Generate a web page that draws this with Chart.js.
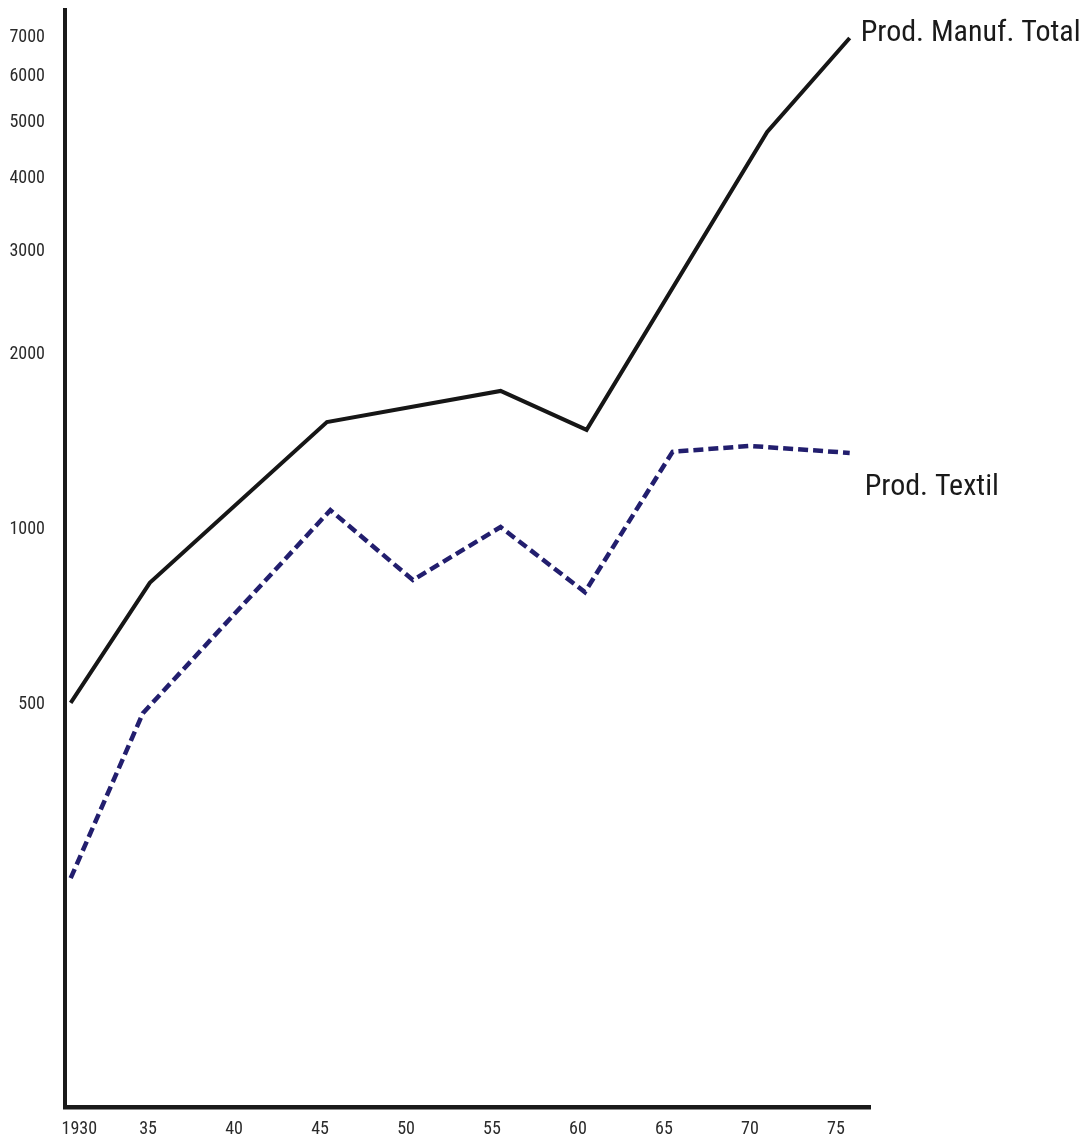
<!DOCTYPE html>
<html>
<head>
<meta charset="utf-8">
<script src="https://cdn.jsdelivr.net/npm/chart.js@4.4.1/dist/chart.umd.min.js"></script>
<style>
  html, body { margin: 0; padding: 0; background: #ffffff; }
  #wrap { width: 1086px; height: 1137px; position: relative; }
</style>
</head>
<body>
<div id="wrap"><canvas id="c" width="1086" height="1137"></canvas></div>
<script>
// ---- data ----
const seriesNames = ['Prod. Manuf. Total', 'Prod. Textil'];

const manufYears  = [1930.5, 1935.1, 1945.4, 1955.5, 1960.5, 1971.0, 1975.8];
const manufValues = [504, 810, 1530, 1730, 1483, 4817, 6984];

const textilYears  = [1930.5, 1934.7, 1945.6, 1950.4, 1955.5, 1960.4, 1965.5, 1970.0, 1975.8];
const textilValues = [252, 484, 1080, 819, 1010, 781, 1360, 1392, 1354];

const yTickValues = [500, 1000, 2000, 3000, 4000, 5000, 6000, 7000];
const xTickValues = [1931, 1935, 1940, 1945, 1950, 1955, 1960, 1965, 1970, 1975];
const xTickLabels = ['1930', '35', '40', '45', '50', '55', '60', '65', '70', '75'];

// ---- chart ----
const FONT = "'Liberation Sans Narrow', 'Arial Narrow', 'Roboto Condensed', 'Liberation Sans', Arial, sans-serif";

const endLabels = {
  id: 'endLabels',
  afterDatasetsDraw(chart, args, opts) {
    const ctx = chart.ctx;
    chart.data.datasets.forEach((ds, i) => {
      const meta = chart.getDatasetMeta(i);
      const last = meta.data[meta.data.length - 1];
      const o = opts.offsets[i];
      ctx.save();
      ctx.font = opts.size + 'px ' + FONT;
      ctx.fillStyle = opts.color;
      ctx.textAlign = 'left';
      ctx.textBaseline = 'middle';
      ctx.fillText(ds.label, last.x + o[0], last.y + o[1]);
      ctx.restore();
    });
  }
};

const toXY = (xs, ys) => xs.map((x, i) => ({ x: x, y: ys[i] }));

new Chart(document.getElementById('c'), {
  type: 'line',
  data: {
    datasets: [
      {
        label: seriesNames[0],
        data: toXY(manufYears, manufValues),
        borderColor: '#161616',
        borderWidth: 4,
        borderJoinStyle: 'miter',
        pointRadius: 0,
        tension: 0,
        fill: false
      },
      {
        label: seriesNames[1],
        data: toXY(textilYears, textilValues),
        borderColor: '#221e6e',
        borderWidth: 4.5,
        borderDash: [10, 5],
        borderJoinStyle: 'miter',
        pointRadius: 0,
        tension: 0,
        fill: false
      }
    ]
  },
  options: {
    responsive: false,
    animation: false,
    devicePixelRatio: 1,
    layout: { padding: { top: 10, right: 216, left: 0, bottom: 0 } },
    plugins: {
      legend: { display: false },
      tooltip: { enabled: false },
      endLabels: { size: 30, color: '#1a1a1a', offsets: [[11, -4], [15, 35]] }
    },
    scales: {
      x: {
        type: 'linear',
        min: 1930.17,
        max: 1976.98,
        afterBuildTicks(scale) { scale.ticks = xTickValues.map(v => ({ value: v })); },
        afterFit(scale) { scale.height = 30; scale.paddingLeft = 0; scale.paddingRight = 0; },
        grid: { display: false, drawTicks: false },
        border: { display: true, width: 4.5, color: '#1a1a1a' },
        ticks: {
          padding: 12,
          maxRotation: 0,
          autoSkip: false,
          color: '#2a2a2a',
          font: { family: FONT, size: 18 },
          callback(value) {
            const idx = xTickValues.indexOf(value);
            return idx >= 0 ? xTickLabels[idx] : '';
          }
        }
      },
      y: {
        type: 'logarithmic',
        min: 102,
        max: 7800,
        afterBuildTicks(scale) { scale.ticks = yTickValues.map(v => ({ value: v })); },
        afterFit(scale) { scale.width = 65; scale.paddingTop = 0; scale.paddingBottom = 0; },
        grid: { display: false, drawTicks: false },
        border: { display: true, width: 4, color: '#1a1a1a' },
        ticks: {
          padding: 20,
          autoSkip: false,
          color: '#2a2a2a',
          font: { family: FONT, size: 18 },
          callback(value) { return String(value); }
        }
      }
    }
  },
  plugins: [endLabels]
});
</script>
</body>
</html>
